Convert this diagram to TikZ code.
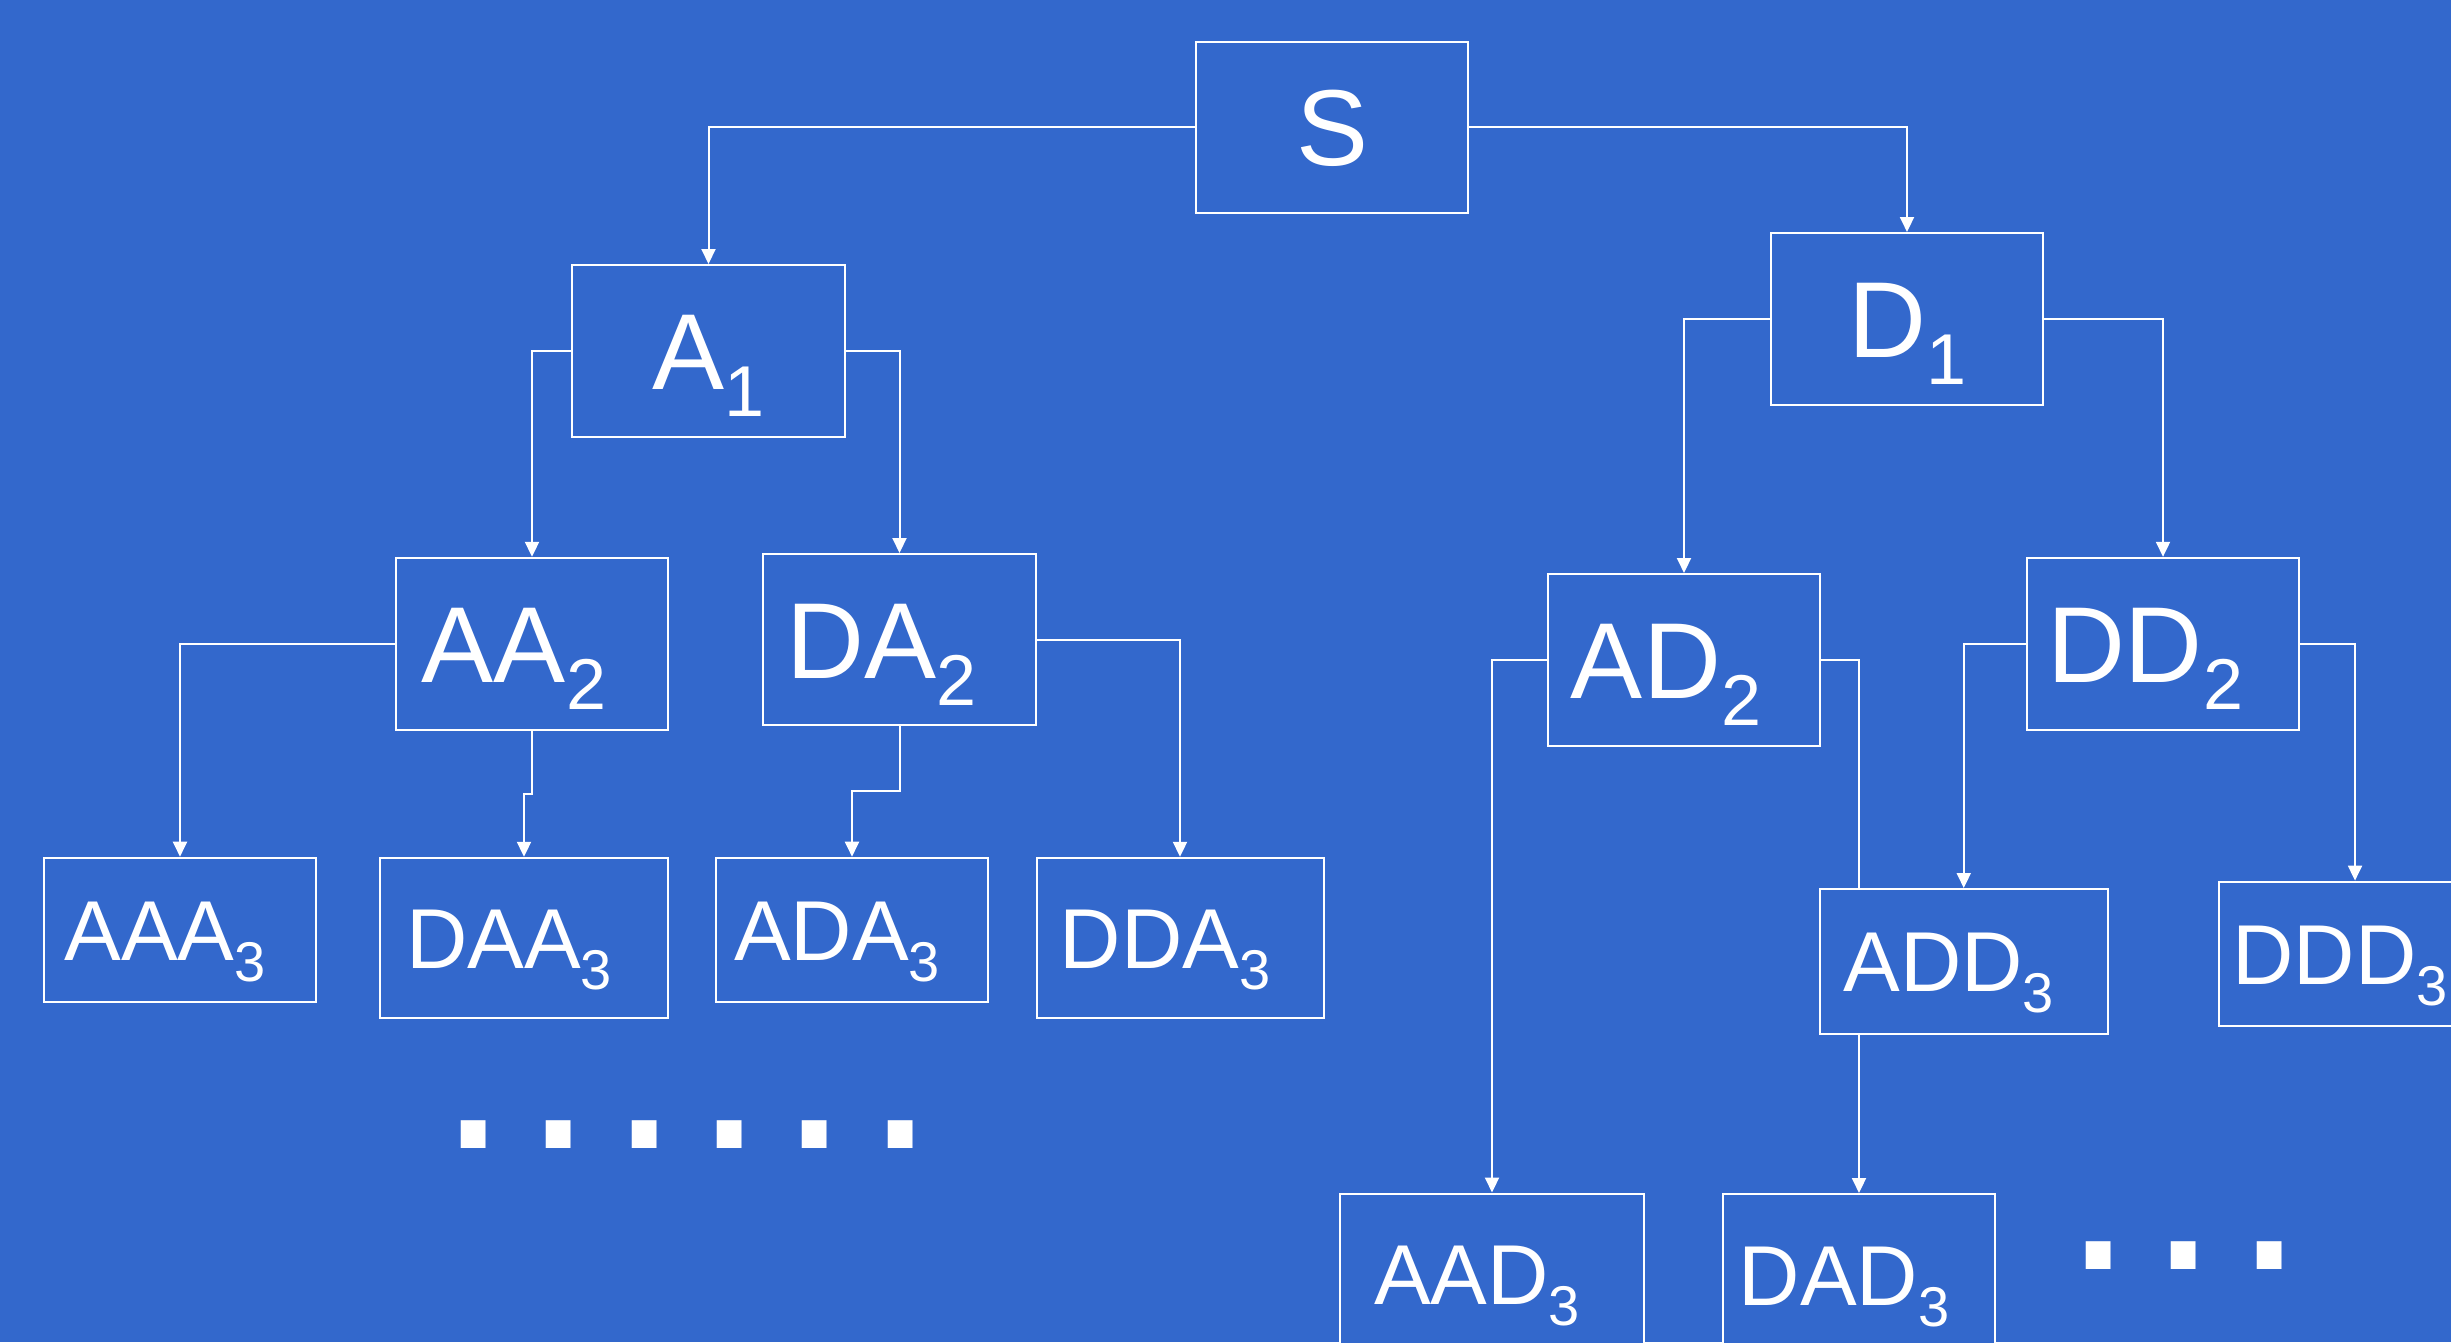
\documentclass[tikz,border=0pt]{standalone}
\usepackage{fontspec}
\setmainfont{Liberation Sans}
\usetikzlibrary{arrows.meta,calc}
\definecolor{slideblue}{RGB}{51,104,204}
\pgfdeclarelayer{bg}
\pgfdeclarelayer{edges}
\pgfsetlayers{bg,edges,main}
\newcommand\subB[1]{\raisebox{-27pt}{\fontsize{72}{72}\selectfont #1}}
\newcommand\subC[1]{\raisebox{-21pt}{\fontsize{56}{56}\selectfont #1}}
\newcommand\shiftleft[2]{\hspace*{-#1}#2\hspace*{#1}}
\begin{document}
\begin{tikzpicture}[x=1pt,y=-1pt,
  box/.style={draw=white,line width=2pt,fill=slideblue,text=white,inner sep=0pt,
    minimum width=272pt,text depth=0pt},
  bigbox/.style={box,minimum height=172pt,text height=77.3pt,
    font=\fontsize{108}{120}\selectfont},
  smallbox/.style={box,minimum height=144pt,text height=60.9pt,
    font=\fontsize{85}{95}\selectfont},
  conn/.style={draw=white,line width=2pt,-{Triangle[length=15pt,width=14pt]}},
  plainconn/.style={draw=white,line width=2pt},
  dotrow/.style={text=white,inner sep=0pt,anchor=base west,
    font=\fontsize{260}{260}\selectfont}]
\begin{pgfonlayer}{bg}
\fill[slideblue] (0,0) rectangle (2451,1342);
\end{pgfonlayer}
\useasboundingbox (0,0) rectangle (2451,1342);

% level 0 and 1
\node[bigbox,minimum height=171pt] (S) at (1332,127.1) {S};
\node[bigbox,minimum width=273pt] (A1) at (708.5,351) {A\subB{1}};
\node[bigbox] (D1) at (1907,319) {D\subB{1}};
% level 2
\node[bigbox] (AA2) at (532,643.8) {\shiftleft{18pt}{AA\subB{2}}};
\node[bigbox,minimum width=273pt,minimum height=171pt] (DA2) at (899.5,639.5) {\shiftleft{18pt}{DA\subB{2}}};
\node[bigbox] (AD2) at (1684,660) {\shiftleft{18pt}{AD\subB{2}}};
\node[bigbox] (DD2) at (2163,643.8) {\shiftleft{18pt}{DD\subB{2}}};
% level 3
\node[smallbox] (AAA3) at (180,929.7) {\shiftleft{15pt}{AAA\subC{3}}};
\node[smallbox,minimum width=288pt,minimum height=160pt] (DAA3) at (524,937.8) {\shiftleft{15pt}{DAA\subC{3}}};
\node[smallbox] (ADA3) at (852,929.7) {\shiftleft{15pt}{ADA\subC{3}}};
\node[smallbox,minimum width=287pt,minimum height=160pt] (DDA3) at (1180,937.8) {\shiftleft{15pt}{DDA\subC{3}}};
\node[smallbox,minimum width=288pt,minimum height=145pt] (ADD3) at (1963.75,961.5) {\shiftleft{15pt}{ADD\subC{3}}};
\node[smallbox] (DDD3) at (2355,953.6) {\shiftleft{15pt}{DDD\subC{3}}};
\node[smallbox,minimum width=304pt,minimum height=162pt] (AAD3) at (1492,1274.5) {\shiftleft{15pt}{AAD\subC{3}}};
\node[smallbox,minimum height=162pt] (DAD3) at (1859,1275) {\shiftleft{15pt}{DAD\subC{3}}};

% ellipsis marks
\node[dotrow] (dotsL) at (437.4,1148.5) {.\kern13.1pt.\kern13.1pt.\kern13.1pt.\kern13.1pt.\kern13.1pt.};
\node[dotrow] (dotsR) at (2062.4,1269.6) {.\kern13.1pt.\kern13.1pt.};

\begin{pgfonlayer}{edges}
\draw[conn] (S.west) -| (A1.north);
\draw[conn] (S.east) -| (D1.north);
\draw[conn] (A1.west) -| (AA2.north);
\draw[conn] (A1.east) -| (DA2.north);
\draw[conn] (D1.west) -| (AD2.north);
\draw[conn] (D1.east) -| (DD2.north);
\draw[conn] (AA2.west) -| (AAA3.north);
\draw[conn] (AA2.south) |- ($(AA2.south)!0.5!(DAA3.north)$) -| (DAA3.north);
\draw[conn] (DA2.south) |- ($(DA2.south)!0.5!(ADA3.north)$) -| (ADA3.north);
\draw[conn] (DA2.east) -| (DDA3.north);
\draw[conn] (AD2.west) -| (AAD3.north);
\draw[conn] (AD2.east) -| (DAD3.north);
\draw[conn] (DD2.west) -| (ADD3.north);
\draw[conn] (DD2.east) -| (DDD3.north);
\end{pgfonlayer}
\end{tikzpicture}
\end{document}
